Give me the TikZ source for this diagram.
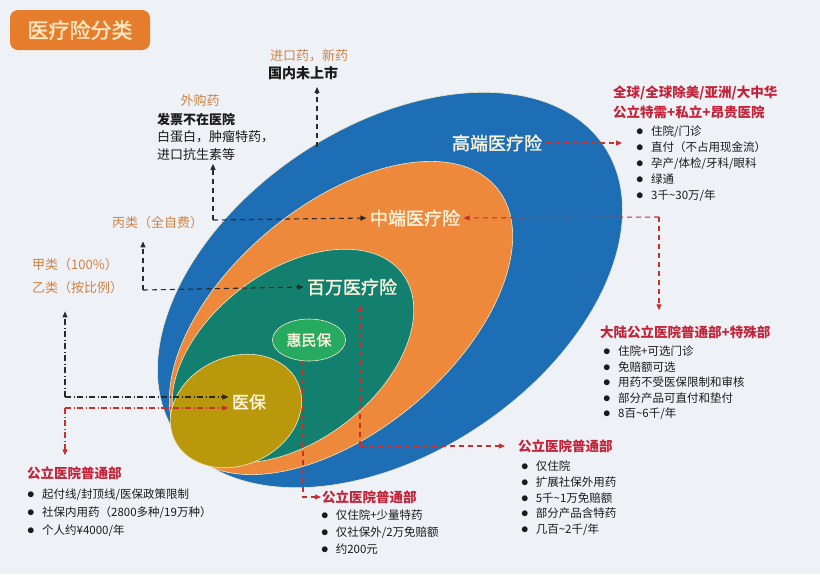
\documentclass[tikz,border=0pt]{standalone}
\usepackage{fontspec}
\setmainfont{Noto Sans CJK SC}
\newfontfamily\midfont{Noto Sans CJK SC}[FakeBold=1.6]
\usepackage{tikz}
\usetikzlibrary{arrows.meta, positioning, shapes.geometric}
\usepackage{xcolor}

\definecolor{bgcol}{HTML}{EEF1F6}
\definecolor{gaoblue}{HTML}{1D6EB5}
\definecolor{zhongorg}{HTML}{EE883A}
\definecolor{baiteal}{HTML}{13806F}
\definecolor{yiolive}{HTML}{BA980C}
\definecolor{huigreen}{HTML}{26AA60}
\definecolor{rimcol}{HTML}{F3E9C6}
\definecolor{titleorg}{HTML}{E67D2C}
\definecolor{titletxt}{HTML}{FBE8C2}
\definecolor{tiertxt}{HTML}{FFF4DC}
\definecolor{notecol}{HTML}{CF8448}
\definecolor{headred}{HTML}{C3243A}
\definecolor{arrred}{HTML}{C8302C}
\definecolor{arrblack}{HTML}{2A2A2A}
\definecolor{txtcol}{HTML}{1A1A1A}

\newcommand{\dotitem}[1][15pt]{\makebox[#1][l]{\scalebox{1.25}{$\bullet$}}}

\begin{document}
\begin{tikzpicture}[
      x=1pt, y=-1pt,
      layer/.style={draw=rimcol, line width=0.6pt},
      titlebox/.style={fill=titleorg, rounded corners=8pt, minimum width=140pt,
        minimum height=40pt, text=titletxt, font=\midfont\fontsize{21}{21}\selectfont},
      tier/.style={text=tiertxt, font=\midfont\fontsize{18}{18}\selectfont},
      note/.style={text=notecol, inner sep=1pt, font=\fontsize{13}{15}\selectfont},
      head/.style={text=headred, anchor=west, inner sep=1pt, font=\bfseries\fontsize{13.5}{16}\selectfont},
      list/.style={align=left, inner sep=0pt, text=txtcol, font=\fontsize{11.5}{16}\selectfont},
      darr/.style={-{Triangle[length=6pt, width=5pt]}, line width=1.1pt, color=arrblack,
        dash pattern=on 5pt off 4pt},
      rarr/.style={darr, color=arrred},
      ddarr/.style={darr, dash pattern=on 6pt off 2.5pt on 1pt off 2.5pt},
      rdarr/.style={ddarr, color=arrred}
    ]

    \useasboundingbox[fill=bgcol] (0,0) rectangle (820,574);

    % Title
    \node[titlebox] (title) at (80,30) {医疗险分类};

    % Ellipses
    \filldraw[layer, fill=gaoblue, rotate around={34:(390,290)}] (390,290) ellipse [x radius=258pt, y radius=163pt];
    \filldraw[layer, fill=zhongorg, rotate around={40:(341,318)}] (341,318) ellipse [x radius=203pt, y radius=113pt];
    \filldraw[layer, fill=baiteal, rotate around={37:(293,356)}] (293,356) ellipse [x radius=137pt, y radius=85pt];
    \filldraw[layer, fill=yiolive, rotate around={25:(236,411)}] (236,411) ellipse [x radius=68pt, y radius=54pt];
    \node[ellipse, layer, fill=huigreen, minimum width=64pt, minimum height=42pt, text=tiertxt,
      font=\midfont\fontsize{15}{15}\selectfont] (huimin) at (309,340) {惠民保};

    % Tier labels
    \node[tier] (gaoduan) at (497,143) {高端医疗险};
    \node[tier] (zhongduan) at (415,218) {中端医疗险};
    \node[tier] (baiwan) at (352,287) {百万医疗险};
    \node[tier, font=\midfont\fontsize{17}{17}\selectfont] (yibao) at (249,402) {医保};

    % Left notes
    \node[note, anchor=west] (jinkou) at (269,56) {进口药，新药};
    \node[anchor=west, inner sep=1pt, text=txtcol, font=\bfseries\fontsize{14}{14}\selectfont] (weishang) at (267,73) {国内未上市};
    \node[note] (waigou) at (200,101) {外购药};
    \node[list, anchor=north west, font=\fontsize{13}{17.5}\selectfont] (wgText) at (157,113)
      {\textbf{发票不在医院}\\白蛋白，肿瘤特药，\\进口抗生素等};
    \node[note, anchor=west] (bingLei) at (111,223) {丙类（全自费）};
    \node[note, anchor=west] (jiaLei) at (31,265) {甲类（100\%）};
    \node[note, anchor=west] (yiLei) at (31,288) {乙类（按比例）};

    % Right lists
    \node[head] (hdTop) at (612,93) {全球/全球除美/亚洲/大中华};
    \node[head] (hdTop2) at (612,112) {公立特需+私立+昂贵医院};
    \node[list, below right=6pt and 24pt of hdTop2.south west] (lsTop)
      {\dotitem 住院/门诊\\\dotitem 直付（不占用现金流）\\\dotitem 孕产/体检/牙科/眼科\\\dotitem 绿通\\\dotitem 3千\textasciitilde30万/年};

    \node[head] (hdMid) at (599,332) {大陆公立医院普通部+特殊部};
    \node[list, font=\fontsize{11.5}{15.5}\selectfont, below right=6pt and 4pt of hdMid.south west] (lsMid)
      {\dotitem 住院+可选门诊\\\dotitem 免赔额可选\\\dotitem 用药不受医保限制和审核\\\dotitem 部分产品可直付和垫付\\\dotitem 8百\textasciitilde6千/年};

    % Bottom lists
    \node[head] (hdBr) at (517,446) {公立医院普通部};
    \node[list, font=\fontsize{11.5}{15.7}\selectfont, below right=7pt and 4pt of hdBr.south west] (lsBr)
      {\dotitem[12pt] 仅住院\\\dotitem[12pt] 扩展社保外用药\\\dotitem[12pt] 5千\textasciitilde1万免赔额\\\dotitem[12pt] 部分产品含特药\\\dotitem[12pt] 几百\textasciitilde2千/年};

    \node[head] (hdBm) at (321,497) {公立医院普通部};
    \node[list, font=\fontsize{11.5}{17}\selectfont, below right=5pt and 0pt of hdBm.south west] (lsBm)
      {\dotitem[12pt] 仅住院+少量特药\\\dotitem[12pt] 仅社保外/2万免赔额\\\dotitem[12pt] 约200元};

    \node[head] (hdBl) at (26,473) {公立医院普通部};
    \node[list, font=\fontsize{11.5}{18}\selectfont, below right=8pt and 1pt of hdBl.south west] (lsBl)
      {\dotitem 起付线/封顶线/医保政策限制\\\dotitem 社保内用药（2800多种/19万种）\\\dotitem 个人约¥4000/年};

    % Connectors
    \coordinate (cGdTip) at (622,143);
    \coordinate (cGdFoot) at (317,147);
    \coordinate (cZdR) at (659,217);
    \coordinate (cZdL) at (213,220);
    \coordinate (cBwL) at (143,290);
    \coordinate (cBwB) at (360,446);
    \coordinate (cYbL) at (65,397);
    \coordinate (cYbL2) at (65,408);

    \draw[rarr] (gaoduan.east) -- (cGdTip);
    \draw[darr] (cGdFoot) -- ([yshift=-6pt]weishang.south -| cGdFoot);

    \draw[rarr] (cZdR) -- (zhongduan.east);
    \draw[rarr] (cZdR) -- ([yshift=14pt]hdMid.north -| cZdR);
    \draw[darr] (cZdL) -- (zhongduan.west);
    \draw[darr] (cZdL) -- ([yshift=-3pt]wgText.south -| cZdL);

    \draw[darr] (cBwL) -- (baiwan.west);
    \draw[darr] (cBwL) -- ([yshift=-11pt]bingLei.south -| cBwL);
    \draw[rarr] (cBwB) -- ([xshift=8pt, yshift=-6pt]baiwan.south);
    \draw[rarr, shorten >=12pt] (cBwB) -- (cBwB -| hdBr.west);

    \draw[rarr] ([xshift=-6pt]huimin.south) |- (hdBm.west);

    \draw[ddarr] (cYbL) -- ([yshift=5pt]yibao.west);
    \draw[ddarr] (cYbL) -- ([yshift=-16pt]yiLei.south -| cYbL);
    \draw[rdarr] (cYbL2) -- ([yshift=-6pt]yibao.west);
    \draw[rdarr] (cYbL2) -- ([yshift=10pt]hdBl.north -| cYbL2);

  \end{tikzpicture}
\end{document}
